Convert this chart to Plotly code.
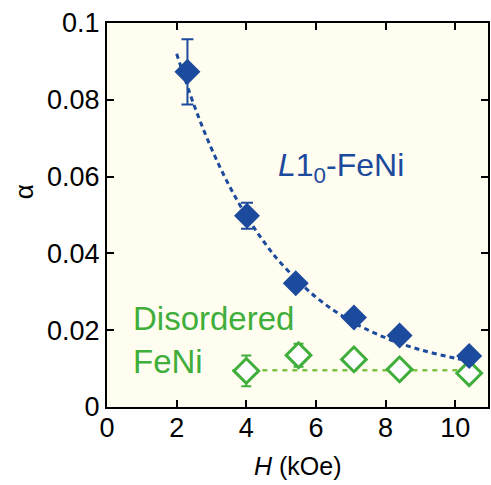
import plotly.graph_objects as go

# L1_0-FeNi data
h_l10 = [2.31, 4.02, 5.42, 7.09, 8.40, 10.40]
a_l10 = [0.0873, 0.0498, 0.0322, 0.0233, 0.0186, 0.0133]
e_l10 = [0.0085, 0.0034, 0.0015, 0.0015, 0.0015, 0.0015]

# fit curve
h_fit = [2.0, 2.5, 3.0, 3.5, 4.0, 4.5, 5.0, 6.0, 7.0, 8.0, 9.0, 10.0, 10.4]
a_fit = [0.0920, 0.0786, 0.0673, 0.0578, 0.0498, 0.0431, 0.0374, 0.0286, 0.0224, 0.0180, 0.0149, 0.0127, 0.0120]

# Disordered FeNi data
h_dis = [4.00, 5.50, 7.09, 8.40, 10.40]
a_dis = [0.0094, 0.0135, 0.0124, 0.0098, 0.0088]
e_dis = [0.0040, 0.0030, 0.0020, 0.0010, 0.0010]

h_flat = [3.6, 10.4]
a_flat = [0.0096, 0.0096]

x_ticks = [0, 2, 4, 6, 8, 10]
y_ticks = [0, 0.02, 0.04, 0.06, 0.08, 0.1]
y_tick_text = ["0", "0.02", "0.04", "0.06", "0.08", "0.1"]

BLUE = "#1c4a9c"
GREEN = "#3fae3a"
LGREEN = "#7cc242"
FONT = "Liberation Sans, Arial, sans-serif"

fig = go.Figure()
fig.add_trace(go.Scatter(x=h_flat, y=a_flat, mode="lines",
                         line=dict(color=LGREEN, width=2.5, dash="5px,5px"),
                         showlegend=False))
fig.add_trace(go.Scatter(x=h_dis, y=a_dis, mode="markers",
                         marker=dict(symbol="diamond", size=19, color="white",
                                     line=dict(color=GREEN, width=3)),
                         error_y=dict(type="data", array=e_dis, color=GREEN,
                                      thickness=2, width=5),
                         showlegend=False))
fig.add_trace(go.Scatter(x=h_fit, y=a_fit, mode="lines", line_shape="spline",
                         line=dict(color=BLUE, width=3, dash="5px,4px"),
                         showlegend=False))
fig.add_trace(go.Scatter(x=h_l10, y=a_l10, mode="markers",
                         marker=dict(symbol="diamond", size=20, color=BLUE,
                                     line=dict(width=0)),
                         error_y=dict(type="data", array=e_l10, color=BLUE,
                                      thickness=2, width=6),
                         showlegend=False))

axis_common = dict(showline=True, linecolor="black", linewidth=2, mirror="ticks",
                   ticks="inside", ticklen=7, tickwidth=1.5, tickcolor="black",
                   showgrid=False, zeroline=False,
                   tickfont=dict(family=FONT, size=27, color="black"))

fig.update_xaxes(range=[0, 10.94], tickvals=x_ticks, ticklabelstandoff=-4, **axis_common)
fig.update_yaxes(range=[0, 0.1], tickvals=y_ticks, ticktext=y_tick_text,
                 ticklabelstandoff=0, **axis_common)

fig.update_layout(
    width=491, height=485,
    margin=dict(l=107, r=1, t=23, b=78),
    paper_bgcolor="white", plot_bgcolor="#fffdf0",
    font=dict(family=FONT),
    annotations=[
        dict(text="<i>L</i>1<sub>0</sub>-FeNi", x=4.86, y=0.0625, xref="x", yref="y",
             xanchor="left", yanchor="middle", showarrow=False,
             font=dict(family=FONT, size=32, color=BLUE)),
        dict(text="Disordered<br>FeNi", x=0.68, y=0.0174, xref="x", yref="y",
             xanchor="left", yanchor="middle", align="left", showarrow=False,
             font=dict(family=FONT, size=33, color=GREEN)),
        dict(text="<i>H</i> (kOe)", x=0.5, y=-0.153, xref="paper", yref="paper",
             xanchor="center", yanchor="middle", showarrow=False,
             font=dict(family=FONT, size=25, color="black")),
        dict(text="α", x=-0.217, y=0.56, xref="paper", yref="paper",
             xanchor="center", yanchor="middle", textangle=-90, showarrow=False,
             font=dict(family=FONT, size=26, color="black")),
    ],
)

fig.write_html("out.html")
